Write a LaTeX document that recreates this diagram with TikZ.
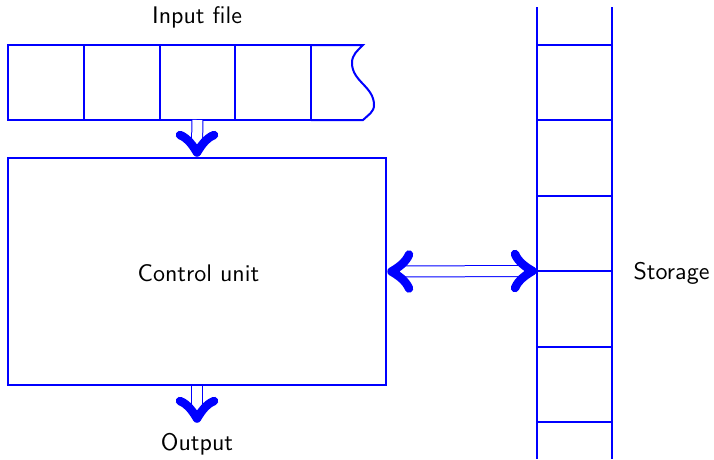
\documentclass[tikz,border=0pt]{standalone}
\usetikzlibrary{calc}
\newcommand\lbltxt[1]{\scalebox{2.4}{\sffamily\fontsize{10}{12}\selectfont #1}}
\begin{document}
\begin{tikzpicture}[x=1pt,y=-1pt,
  lin/.style={draw=blue, line width=2pt},
  cell/.style={lin, minimum width=75.75pt, minimum height=75pt, inner sep=0pt, outer sep=0pt},
  dbl/.style={draw=blue, double=white, double distance=10pt, line width=1pt},
  chevstroke/.style={draw=blue, line width=8.5pt, line cap=round, line join=round},
  chev/.pic={\draw[chevstroke] (-22,17) .. controls (-18.7,8.8) and (-10.3,3.4) .. (-4.5,0)
                      .. controls (-10.3,-3.4) and (-18.7,-8.8) .. (-22,-17);},
  lbl/.style={inner sep=0pt}]
\useasboundingbox (0,0) rectangle (714,459);
% tape
\foreach \i in {0,...,3}
  \node[cell] (c\i) at ({8+75.75*\i+37.875},82.5) {};
\draw[lin] (c3.north east) -- (363,45) to[out=-135,in=90] (352,63) to[out=-90,in=90] (374,105) to[out=-90,in=45] (363,120) -- (c3.south east);
\node[lbl] (in) at (197,17) {\lbltxt{Input file}};
% control
\node[lin, minimum width=378pt, minimum height=227pt, inner sep=0pt] (cu) at (197,271.5) {};
\node[lbl] (cut) at (198.5,273) {\lbltxt{Control unit}};
\node[lbl, anchor=north] (out) at (197,433) {\lbltxt{Output}};
\coordinate (oe) at (197,423);
% storage
\draw[lin] (537,7) -- (537,459) (612,7) -- (612,459);
\foreach \y in {45,120,196,271,347,422} \draw[lin] (537,\y) -- (612,\y);
\coordinate (s) at (537,271);
\node[lbl] (st) at (671.5,273) {\lbltxt{Storage}};
% arrows
\draw[dbl, shorten >=10pt] (c2.south) -- (cu.north);
\draw[dbl, shorten >=10pt, shorten <=10pt] (cu.east) -- (s);
\draw[dbl, shorten >=10pt] (cu.south) -- (oe);
\pic[rotate=-90] at (cu.north) {chev};
\pic[rotate=180] at (cu.east) {chev};
\pic at (s) {chev};
\pic[rotate=-90] at (oe) {chev};
\end{tikzpicture}
\end{document}
